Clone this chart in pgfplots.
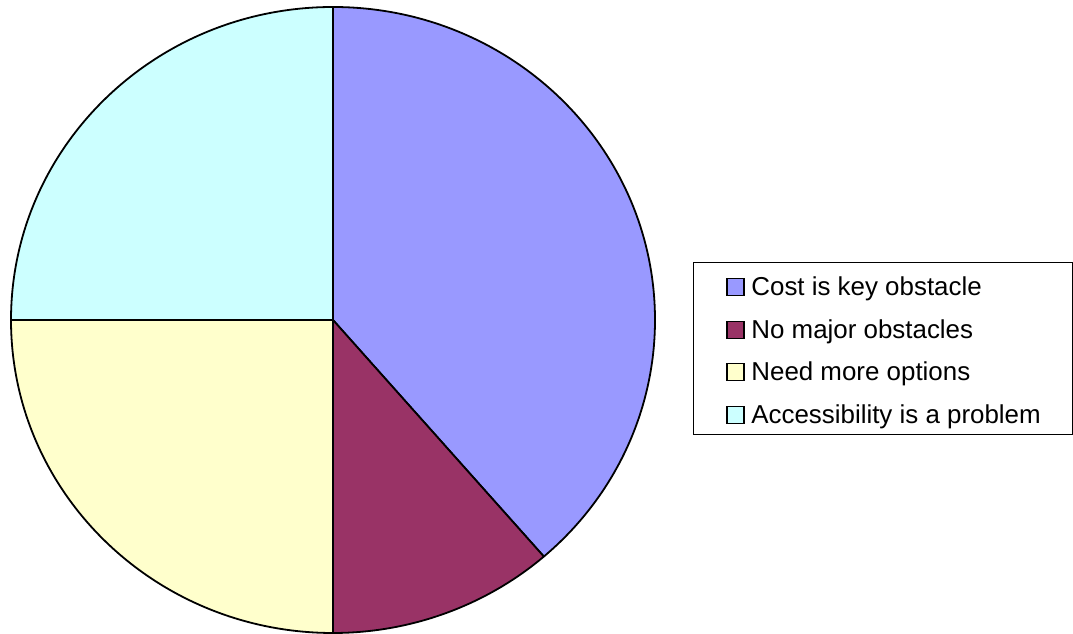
\documentclass[border=0pt]{standalone}
\usepackage{pgfplots}
\pgfplotsset{compat=1.18}
\usepackage{pgfplotstable}
\usepackage{fontspec}
\setmainfont{Liberation Sans}
\definecolor{cCost}{HTML}{9999FF}
\definecolor{cNone}{HTML}{993366}
\definecolor{cNeed}{HTML}{FFFFCC}
\definecolor{cAcc}{HTML}{CCFFFF}
\pgfplotstableread{
value
34
10
22
22
}\piedata
\begin{document}
\begin{tikzpicture}
\pgfplotstablegetelem{0}{value}\of\piedata \let\vA\pgfplotsretval
\pgfplotstablegetelem{1}{value}\of\piedata \let\vB\pgfplotsretval
\pgfplotstablegetelem{2}{value}\of\piedata \let\vC\pgfplotsretval
\pgfplotstablegetelem{3}{value}\of\piedata \let\vD\pgfplotsretval
\pgfmathsetmacro\total{\vA+\vB+\vC+\vD}
\pgfmathsetmacro\aA{90-360*\vA/\total}
\pgfmathsetmacro\aB{\aA-360*\vB/\total}
\pgfmathsetmacro\aC{\aB-360*\vC/\total}
\pgfmathsetmacro\aD{\aC-360*\vD/\total}
\begin{axis}[
  width=536.5bp, height=317bp, scale only axis,
  xmin=0, xmax=1073, ymin=0, ymax=634,
  hide axis, clip=false,
]
\path (axis cs:0,0) rectangle (axis cs:1073,634);
\begin{scope}[line width=0.9bp, line join=round]
\filldraw[fill=cCost] (axis cs:333,314) -- ++(90:161bp and 156.5bp) arc[start angle=90, end angle=\aA, x radius=161bp, y radius=156.5bp] -- cycle;
\filldraw[fill=cNone] (axis cs:333,314) -- ++(\aA:161bp and 156.5bp) arc[start angle=\aA, end angle=\aB, x radius=161bp, y radius=156.5bp] -- cycle;
\filldraw[fill=cNeed] (axis cs:333,314) -- ++(\aB:161bp and 156.5bp) arc[start angle=\aB, end angle=\aC, x radius=161bp, y radius=156.5bp] -- cycle;
\filldraw[fill=cAcc] (axis cs:333,314) -- ++(\aC:161bp and 156.5bp) arc[start angle=\aC, end angle=\aD, x radius=161bp, y radius=156.5bp] -- cycle;
\end{scope}
% legend
\draw[line width=0.5bp] (axis cs:693,371) rectangle (axis cs:1072,199);
\begin{scope}[line width=0.8bp]
\filldraw[fill=cCost] (axis cs:727,338.5) rectangle (axis cs:744,355.5);
\filldraw[fill=cNone] (axis cs:727,295.5) rectangle (axis cs:744,312.5);
\filldraw[fill=cNeed] (axis cs:727,253.5) rectangle (axis cs:744,270.5);
\filldraw[fill=cAcc] (axis cs:727,210.5) rectangle (axis cs:744,227.5);
\end{scope}
\begin{scope}[every node/.style={anchor=west, inner sep=0pt, font=\fontsize{13}{15}\selectfont}]
\node at (axis cs:751,345) {Cost is key obstacle};
\node at (axis cs:751,302) {No major obstacles};
\node at (axis cs:751,260) {Need more options};
\node at (axis cs:751,217) {Accessibility is a problem};
\end{scope}
\end{axis}
\end{tikzpicture}
\end{document}
